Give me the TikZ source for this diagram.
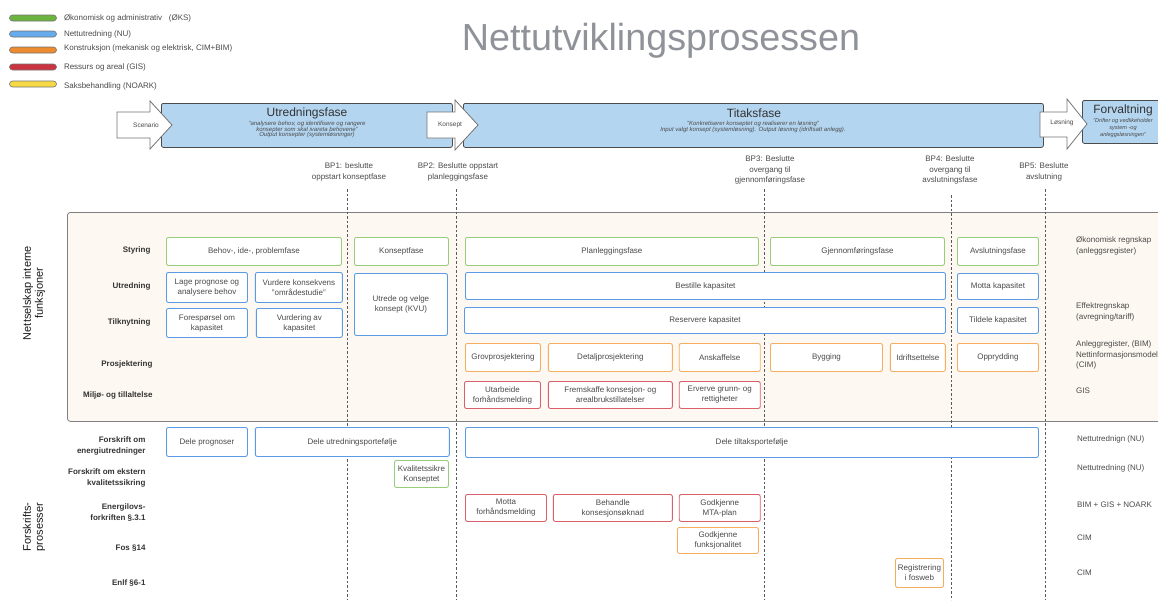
\documentclass[tikz,border=0pt]{standalone}
\usepackage{fontspec}
\setmainfont{Liberation Sans}
\usetikzlibrary{positioning}

\definecolor{greenline}{HTML}{9ACD7A}
\definecolor{blueline}{HTML}{5B9BE6}
\definecolor{orangeline}{HTML}{F5AD60}
\definecolor{redline}{HTML}{D9606B}
\definecolor{leggreen}{HTML}{6CB43F}
\definecolor{legblue}{HTML}{66ABEB}
\definecolor{legorange}{HTML}{EC8B2F}
\definecolor{legred}{HTML}{CC3340}
\definecolor{legyellow}{HTML}{F7D945}
\definecolor{phasefill}{HTML}{B4D5F0}
\definecolor{creamfill}{HTML}{FDF8F1}
\definecolor{textgray}{HTML}{4A4A4A}
\definecolor{titlegray}{HTML}{8F9399}

\begin{document}
\begin{tikzpicture}
    [
        x=1pt, y=-1pt,
        every node/.style={text=textgray, font=\fontsize{8}{10}\selectfont},
        base_box/.style={rectangle, rounded corners=2pt, fill=white, line width=0.9pt, anchor=north west, align=center, inner sep=1pt},
        green_box/.style={base_box, draw=greenline},
        blue_box/.style={base_box, draw=blueline},
        orange_box/.style={base_box, draw=orangeline},
        red_box/.style={base_box, draw=redline},
        legend_bar/.style={rectangle, rounded corners=3pt, draw=black!55, line width=0.6pt, minimum width=47pt, minimum height=6pt, inner sep=0pt},
        legend_text/.style={anchor=west, inner sep=0pt},
        phase_box/.style={rectangle, rounded corners=2pt, fill=phasefill, draw=black!70, line width=0.8pt, anchor=north west, inner sep=0pt},
        phase_title/.style={font=\fontsize{12}{14}\selectfont, text=black!80},
        phase_sub/.style={font=\fontsize{6}{5.6}\selectfont\itshape, align=center, inner sep=0pt},
        block_arrow/.style={fill=white, draw=black!55, line width=0.8pt},
        arrow_text/.style={font=\fontsize{6.5}{8}\selectfont},
        bp_text/.style={align=center, font=\fontsize{8}{10.5}\selectfont},
        guide_line/.style={draw=black!65, line width=1pt, dash pattern=on 2.5pt off 2pt},
        row_label/.style={anchor=east, align=right, font=\bfseries\fontsize{8}{11}\selectfont, text=black!80},
        group_label/.style={rotate=90, align=center, font=\fontsize{11}{12}\selectfont, text=black!90},
        note_text/.style={anchor=west, align=left, inner sep=0pt, font=\fontsize{8}{10.5}\selectfont},
    ]
    \useasboundingbox (0,0) rectangle (1158,600);
    \clip (0,0) rectangle (1158,600);

    % legend
    \node[legend_bar, fill=leggreen] (leg_oks) at (33,18) {};
    \node[legend_bar, fill=legblue] (leg_nu) at (33,34) {};
    \node[legend_bar, fill=legorange] (leg_kon) at (33,50) {};
    \node[legend_bar, fill=legred] (leg_gis) at (33,67) {};
    \node[legend_bar, fill=legyellow] (leg_noark) at (33,84) {};
    \node[legend_text] (leg_oks_txt) [right = 7pt of leg_oks] {Økonomisk og administrativ~~~(ØKS)};
    \node[legend_text] (leg_nu_txt) [right = 7pt of leg_nu] {Nettutredning (NU)};
    \node[legend_text] (leg_kon_txt) [right = 7pt of leg_kon, yshift=1.5pt] {Konstruksjon (mekanisk og elektrisk, CIM+BIM)};
    \node[legend_text] (leg_gis_txt) [right = 7pt of leg_gis] {Ressurs og areal (GIS)};
    \node[legend_text] (leg_noark_txt) [right = 7pt of leg_noark, yshift=-2pt] {Saksbehandling (NOARK)};

    % title
    \node[anchor=base, font=\fontsize{37.7}{40}\selectfont, text=titlegray] (title) at (661,50) {Nettutviklingsprosessen};

    % phases
    \node[phase_box, minimum width=291pt, minimum height=44pt] (utr_fase) at (161,103) {};
    \node[phase_box, minimum width=580pt, minimum height=44pt] (tilt_fase) at (463,103) {};
    \node[phase_box, minimum width=90pt, minimum height=43pt] (forv_fase) at (1082,100) {};
    \node[phase_title] (utr_title) at (307,113) {Utredningsfase};
    \node[phase_sub] (utr_sub) at (307,129.5) {"analysere behov, og identifisere og rangere\\konsepter som skal ivareta behovene"\\Output konsepter (systemløsninger)};
    \node[phase_title] (tilt_title) at (754,113) {Titaksfase};
    \node[phase_sub] (tilt_sub) at (753,127) {"Konkretiserer konseptet og realiserer en løsning"\\Input valgt konsept (systemløsning). Output løsning (idriftsatt anlegg).};
    \node[phase_title] (forv_title) at (1123,110) {Forvaltning};
    \node[phase_sub, font=\fontsize{5.6}{7}\selectfont\itshape] (forv_sub) at (1123,128) {"Drifter og vedlikeholder\\system -og\\anleggsløsningen"};

    % block arrows
    \draw[block_arrow] (117,112) -- (150,112) -- (150,101) -- (172,125) -- (150,149) -- (150,138) -- (117,138) -- cycle;
    \draw[block_arrow] (427,112) -- (455,112) -- (455,100) -- (478,125) -- (455,150) -- (455,138) -- (427,138) -- cycle;
    \draw[block_arrow] (1040,112) -- (1067,112) -- (1067,99) -- (1087,124) -- (1067,149) -- (1067,137) -- (1040,137) -- cycle;
    \node[arrow_text] (scenario) at (146,125) {Scenario};
    \node[arrow_text] (konsept) at (450,125) {Konsept};
    \node[arrow_text] (losning) at (1062,123) {Løsning};

    % beslutningspunkter
    \node[bp_text] (bp1) at (349,172) {BP1: beslutte\\oppstart konseptfase};
    \node[bp_text] (bp2) at (458,172) {BP2: Beslutte oppstart\\planleggingsfase};
    \node[bp_text] (bp3) at (770,170) {BP3: Beslutte\\overgang til\\gjennomføringsfase};
    \node[bp_text] (bp4) at (950,170) {BP4: Beslutte\\overgang til\\avslutningsfase};
    \node[bp_text] (bp5) at (1044,172) {BP5: Beslutte\\avslutning};

    % interne funksjoner
    \node[rectangle, rounded corners=3pt, fill=creamfill, draw=black!50, line width=0.8pt, anchor=north west, minimum width=1110pt, minimum height=209pt] (intern) at (67,212) {};

    \coordinate (bp1_top) at (347,189);
    \coordinate (bp1_end) at (347,600);
    \coordinate (bp2_top) at (456,189);
    \coordinate (bp2_end) at (456,600);
    \coordinate (bp3_top) at (764,189);
    \coordinate (bp3_end) at (764,600);
    \coordinate (bp4_top) at (951,195);
    \coordinate (bp4_end) at (951,600);
    \coordinate (bp5_top) at (1045,189);
    \coordinate (bp5_end) at (1045,600);
    \draw[guide_line] (bp1_top) -- (bp1_end);
    \draw[guide_line] (bp2_top) -- (bp2_end);
    \draw[guide_line] (bp3_top) -- (bp3_end);
    \draw[guide_line] (bp4_top) -- (bp4_end);
    \draw[guide_line] (bp5_top) -- (bp5_end);

    \node[group_label] (grp_intern) at (34,293) {Nettselskap interne\\funksjoner};
    \node[group_label] (grp_forskrift) at (34,527) {Forskrifts-\\prosesser};

    \node[row_label] (row_styring) at (154,250) {Styring};
    \node[row_label] (row_utredning) at (154,286) {Utredning};
    \node[row_label] (row_tilknytning) at (154,322) {Tilknytning};
    \node[row_label] (row_prosjektering) at (156,364) {Prosjektering};
    \node[row_label] (row_miljo) at (156,395) {Miljø- og tillaltelse};
    \node[row_label] (row_energiutr) at (149,446) {Forskrift om\\energiutredninger};
    \node[row_label] (row_kvalitet) at (149,478) {Forskrift om ekstern\\kvalitetssikring};
    \node[row_label] (row_energilov) at (149,513) {Energilovs-\\forkriften §.3.1};
    \node[row_label] (row_fos) at (149,548) {Fos §14};
    \node[row_label] (row_enlf) at (149,583) {Enlf §6-1};

    % styring
    \node[green_box, minimum width=175pt, minimum height=28pt] (styr_behov) at (166,237) {Behov-, ide-, problemfase};
    \node[green_box, minimum width=94pt, minimum height=28pt] (styr_konsept) at (354,237) {Konseptfase};
    \node[green_box, minimum width=293pt, minimum height=28pt] (styr_plan) at (465,237) {Planleggingsfase};
    \node[green_box, minimum width=174pt, minimum height=28pt] (styr_gjen) at (770,237) {Gjennomføringsfase};
    \node[green_box, minimum width=81pt, minimum height=28pt] (styr_avsl) at (957,237) {Avslutningsfase};

    % utredning
    \node[blue_box, minimum width=81pt, minimum height=30pt] (utr_prognose) at (166,272) {Lage prognose og\\analysere behov};
    \node[blue_box, minimum width=87pt, minimum height=30pt] (utr_konsekvens) [right = 7pt of utr_prognose] {Vurdere konsekvens\\"områdestudie"};
    \node[blue_box, minimum width=93pt, minimum height=62pt] (utr_kvu) at (354,273) {Utrede og velge\\konsept (KVU)};
    \node[blue_box, minimum width=480pt, minimum height=27pt] (utr_bestille) at (465,272) {Bestille kapasitet};
    \node[blue_box, minimum width=81pt, minimum height=26pt] (utr_motta) at (957,273) {Motta kapasitet};

    % tilknytning
    \node[blue_box, minimum width=81pt, minimum height=29pt] (tilk_foresp) at (166,308) {Forespørsel om\\kapasitet};
    \node[blue_box, minimum width=86pt, minimum height=29pt] (tilk_vurd) [right = 8pt of tilk_foresp] {Vurdering av\\kapasitet};
    \node[blue_box, minimum width=481pt, minimum height=26pt] (tilk_reserv) at (464,307) {Reservere kapasitet};
    \node[blue_box, minimum width=81pt, minimum height=26pt] (tilk_tildele) at (957,307) {Tildele kapasitet};

    % prosjektering
    \node[orange_box, minimum width=75pt, minimum height=28pt] (pro_grov) at (465,343) {Grovprosjektering};
    \node[orange_box, minimum width=124pt, minimum height=28pt] (pro_detalj) [right = 7pt of pro_grov] {Detaljprosjektering};
    \node[orange_box, minimum width=81pt, minimum height=28pt] (pro_ansk) [right = 6pt of pro_detalj] {Anskaffelse};
    \node[orange_box, minimum width=112pt, minimum height=28pt] (pro_bygg) at (770,343) {Bygging};
    \node[orange_box, minimum width=55pt, minimum height=28pt] (pro_idrift) [right = 7pt of pro_bygg] {Idriftsettelse};
    \node[orange_box, minimum width=81pt, minimum height=28pt] (pro_oppr) at (957,343) {Opprydding};

    % miljo
    \node[red_box, minimum width=76pt, minimum height=27pt] (milj_utarb) at (464,381) {Utarbeide\\forhåndsmelding};
    \node[red_box, minimum width=124pt, minimum height=27pt] (milj_fremsk) [right = 7pt of milj_utarb] {Fremskaffe konsesjon- og\\arealbrukstillatelser};
    \node[red_box, minimum width=81pt, minimum height=27pt] (milj_erverve) [right = 6pt of milj_fremsk] {Erverve grunn- og\\rettigheter};

    % forskrifter
    \node[blue_box, minimum width=81pt, minimum height=29pt] (dele_progn) at (166,427) {Dele prognoser};
    \node[blue_box, minimum width=194pt, minimum height=29pt] (dele_utr) [right = 7pt of dele_progn] {Dele utredningsportefølje};
    \node[blue_box, minimum width=573pt, minimum height=30pt] (dele_tiltak) at (465,427) {Dele tiltaksportefølje};
    \node[green_box, minimum width=54pt, minimum height=27pt] (kval_konsept) at (394,460) {Kvalitetssikre\\Konseptet};
    \node[red_box, minimum width=81pt, minimum height=27pt] (en_motta) at (465,494) {Motta\\forhåndsmelding};
    \node[red_box, minimum width=119pt, minimum height=27pt] (en_behandle) [right = 6pt of en_motta] {Behandle\\konsesjonsøknad};
    \node[red_box, minimum width=81pt, minimum height=27pt] (en_mta) [right = 6pt of en_behandle] {Godkjenne\\MTA-plan};
    \node[orange_box, minimum width=81pt, minimum height=26pt] (fos_funk) at (677,527) {Godkjenne\\funksjonalitet};
    \node[orange_box, minimum width=48pt, minimum height=29pt] (enlf_fosweb) at (895,558) {Registrering\\i fosweb};

    % systemer
    \node[note_text] (sys_okonomi) at (1076,246) {Økonomisk regnskap\\(anleggsregister)};
    \node[note_text] (sys_effekt) at (1076,312) {Effektregnskap\\(avregning/tariff)};
    \node[note_text] (sys_anlegg) at (1076,355) {Anleggregister, (BIM)\\Nettinformasjonsmodell\\(CIM)};
    \node[note_text] (sys_gis) at (1076,391) {GIS};
    \node[note_text] (sys_nu_a) at (1077,439) {Nettutrednign (NU)};
    \node[note_text] (sys_nu_b) at (1077,468) {Nettutredning (NU)};
    \node[note_text] (sys_bim) at (1077,505) {BIM + GIS + NOARK};
    \node[note_text] (sys_cim_a) at (1077,538) {CIM};
    \node[note_text] (sys_cim_b) at (1077,573) {CIM};
\end{tikzpicture}
\end{document}
